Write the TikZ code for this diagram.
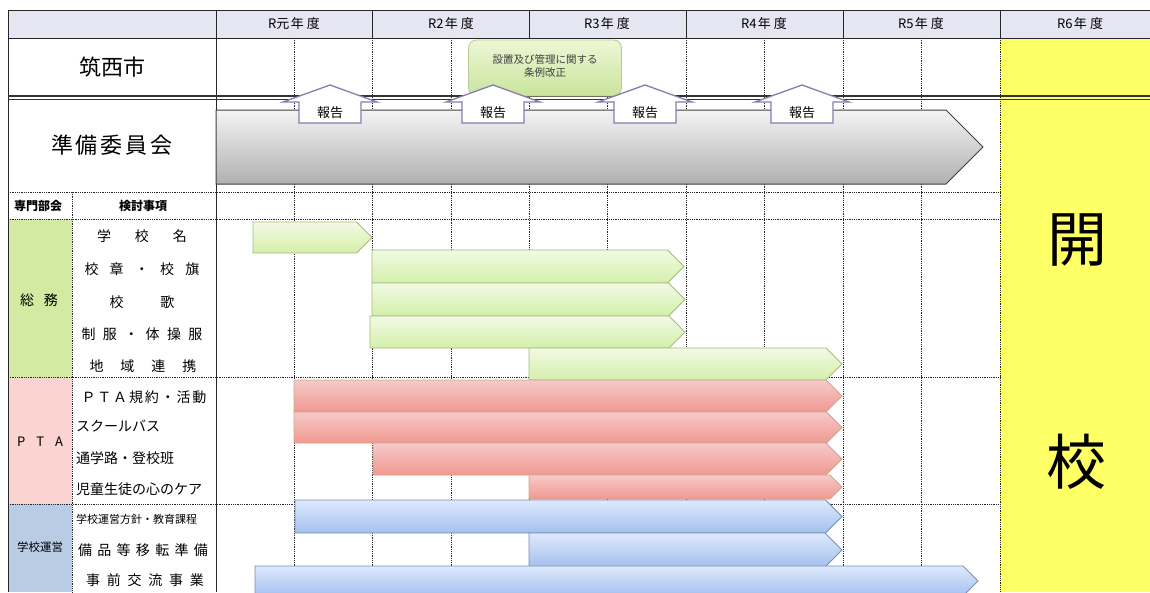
\documentclass[tikz,border=0pt]{standalone}
\usepackage{fontspec}
\setmainfont{Noto Sans CJK JP}
\definecolor{hdr}{HTML}{E6E6F2}
\definecolor{yel}{HTML}{FFFF66}
\definecolor{gcell}{HTML}{D2EAA2}
\definecolor{pcell}{HTML}{F9D4D0}
\definecolor{bcell}{HTML}{B8CCE4}
\definecolor{gtop}{HTML}{F2FAE4}
\definecolor{gbot}{HTML}{D4EFAA}
\definecolor{gedge}{HTML}{A4BC80}
\definecolor{ptop}{HTML}{F6CACA}
\definecolor{pbot}{HTML}{F09890}
\definecolor{pedge}{HTML}{CCA88C}
\definecolor{btop}{HTML}{DEE9FC}
\definecolor{bbot}{HTML}{A4C0EE}
\definecolor{bedge}{HTML}{7890B4}
\definecolor{rtop}{HTML}{F4F4F4}
\definecolor{rbot}{HTML}{B0B0B0}
\definecolor{redge}{HTML}{8A7AAE}
\definecolor{jtop}{HTML}{EEF7D6}
\definecolor{jbot}{HTML}{C8E49C}
\newcommand{\fs}[1]{\fontsize{#1}{#1}\selectfont}
\newcommand{\spreadtext}[2]{\makebox[#1][s]{#2}}
\newcommand{\yr}[1]{#1\hspace{1.5pt}年\hspace{3pt}度}
\newcommand{\bararrow}[5]{%
  \path[#1] (#2,#4) -- ({#3-(#5-#4)/2},#4) -- (#3,{(#4+#5)/2}) -- ({#3-(#5-#4)/2},#5) -- (#2,#5) -- cycle;}
\newcommand{\report}[2]{%
  \path[reportarrow] (#2,85) -- ({#2+47},102) -- ({#2+31},102) -- ({#2+31},123) -- ({#2-31},123) -- ({#2-31},102) -- ({#2-47},102) -- cycle;
  \node[font=\fs{13}, inner sep=0] (#1) at (#2,112.5) {報告};}
\tikzset{
  solidline/.style={line width=1pt, draw=black!85},
  gridline/.style={densely dotted, line width=0.8pt, draw=black!85},
  greenbar/.style={draw=gedge, line width=0.8pt, top color=gtop, bottom color=gbot},
  pinkbar/.style={draw=pedge, line width=0.8pt, top color=ptop, bottom color=pbot},
  bluebar/.style={draw=bedge, line width=0.8pt, top color=btop, bottom color=bbot},
  graybar/.style={draw=black!75, line width=1pt, top color=rtop, bottom color=rbot},
  reportarrow/.style={draw=redge, line width=1.3pt, fill=white},
  lbl/.style={inner sep=0, font=\fs{14}},
  yearlbl/.style={inner sep=0, font=\fs{13}},
}
\begin{document}
\begin{tikzpicture}[x=1pt,y=-1pt]
\clip (0,0) rectangle (1150,592);
\fill[white] (0,0) rectangle (1150,592);
% backgrounds
\fill[hdr] (8,10) rectangle (1150,38);
\fill[yel] (1000,38) rectangle (1150,592);
\fill[gcell] (8,219) rectangle (72,377);
\fill[pcell] (8,377) rectangle (72,504);
\fill[bcell] (8,504) rectangle (72,592);
% grid
\foreach \x in {294,372,451,529,607,686,764,843,921,1000}
  \draw[gridline] (\x,38) -- (\x,592);
\foreach \y in {192,219,377,504}
  \draw[gridline] (8,\y) -- (1000,\y);
\draw[gridline] (72,192) -- (72,592);
% solid lines
\draw[solidline] (8,10) -- (1150,10);
\draw[solidline] (8,38) -- (1150,38);
\foreach \x in {372,529,686,843,1000}
  \draw[solidline] (\x,10) -- (\x,38);
\draw[solidline] (8,10) -- (8,592);
\draw[solidline] (216,10) -- (216,592);
\draw[line width=1.2pt, draw=black!80] (8,96) -- (1150,96);
\draw[line width=1.2pt, draw=black!80] (8,99.5) -- (1150,99.5);
% header labels
\node[yearlbl] (y0) at (294,24) {\yr{R元}};
\node[yearlbl] (y2) at (451,24) {\yr{R2}};
\node[yearlbl] (y3) at (607,24) {\yr{R3}};
\node[yearlbl] (y4) at (764,24) {\yr{R4}};
\node[yearlbl] (y5) at (921,24) {\yr{R5}};
\node[yearlbl] (y6) at (1080,24) {\yr{R6}};
% left labels
\node[inner sep=0, font=\fs{22}] (city) at (112,67) {筑西市};
\node[inner sep=0, font=\fs{22}] (prep) at (112,145) {\spreadtext{122pt}{準\hfill 備\hfill 委\hfill 員\hfill 会}};
\node[inner sep=0, font=\fs{12}\bfseries] (bukai) at (38,206) {専門部会};
\node[inner sep=0, font=\fs{12}\bfseries] (kento) at (143,206) {検討事項};
\node[inner sep=0, font=\fs{14}] (soumu) at (39,300) {\spreadtext{38pt}{総\hfill 務}};
\node[inner sep=0, font=\fs{13}] (pta) at (40,442) {\spreadtext{46pt}{P\hfill T\hfill A}};
\node[inner sep=0, font=\fs{11.5}] (unei) at (40,547) {学校運営};
\node[lbl] (s1) at (142,236) {\spreadtext{90pt}{学\hfill 校\hfill 名}};
\node[lbl] (s2) at (142,269) {\spreadtext{115pt}{校\hfill 章\hfill ・\hfill 校\hfill 旗}};
\node[lbl] (s3) at (142,302) {\spreadtext{65pt}{校\hfill 歌}};
\node[lbl] (s4) at (142,334) {\spreadtext{121pt}{制\hfill 服\hfill ・\hfill 体\hfill 操\hfill 服}};
\node[lbl] (s5) at (143,366) {\spreadtext{107pt}{地\hfill 域\hfill 連\hfill 携}};
\node[lbl] (p1) at (144,397) {\spreadtext{125pt}{Ｐ\hfill Ｔ\hfill Ａ\hfill 規\hfill 約\hfill ・\hfill 活\hfill 動}};
\node[lbl, anchor=west] (p2) at (76,426) {スクールバス};
\node[lbl, anchor=west] (p3) at (76,458) {通学路・登校班};
\node[lbl, anchor=west] (p4) at (76,489) {児童生徒の心のケア};
\node[inner sep=0, font=\fs{11}, anchor=west] (u1) at (76,519) {学校運営方針・教育課程};
\node[lbl] (u2) at (143,550) {\spreadtext{130pt}{備\hfill 品\hfill 等\hfill 移\hfill 転\hfill 準\hfill 備}};
\node[lbl] (u3) at (145,580) {\spreadtext{118pt}{事\hfill 前\hfill 交\hfill 流\hfill 事\hfill 業}};
% opening
\node[inner sep=0, font=\fs{60}] (kai) at (1077,240) {開};
\node[inner sep=0, font=\fs{60}] (kou) at (1076,462) {校};
% preparation committee arrow
\bararrow{graybar}{216}{983}{110}{184}
% ordinance box
\node[draw=gedge!80, line width=0.8pt, rounded corners=8pt, top color=jtop, bottom color=jbot,
      minimum width=153pt, minimum height=56pt, inner sep=0] (jorei) at (545,68) {};
\node[inner sep=0, font=\fs{10.5}, text=black!75, align=center] (joreit) at (545,66)
  {設置及び管理に関する\\[3pt]条例改正};
% reports
\report{r1}{330}
\report{r2}{493}
\report{r3}{645}
\report{r4}{802}
% green bars
\bararrow{greenbar}{253}{372}{222}{253}
\bararrow{greenbar}{372}{684}{250}{283}
\bararrow{greenbar}{372}{685}{283}{316}
\bararrow{greenbar}{370}{685}{316}{348}
\bararrow{greenbar}{529}{842}{348}{380}
% pink bars
\bararrow{pinkbar}{294}{842}{380}{412}
\bararrow{pinkbar}{294}{842}{412}{443}
\bararrow{pinkbar}{373}{842}{443}{475}
\bararrow{pinkbar}{529}{842}{475}{499}
% blue bars
\bararrow{bluebar}{295}{842}{500}{533}
\bararrow{bluebar}{529}{842}{533}{567}
\bararrow{bluebar}{255}{978}{566}{596}
\end{tikzpicture}
\end{document}
